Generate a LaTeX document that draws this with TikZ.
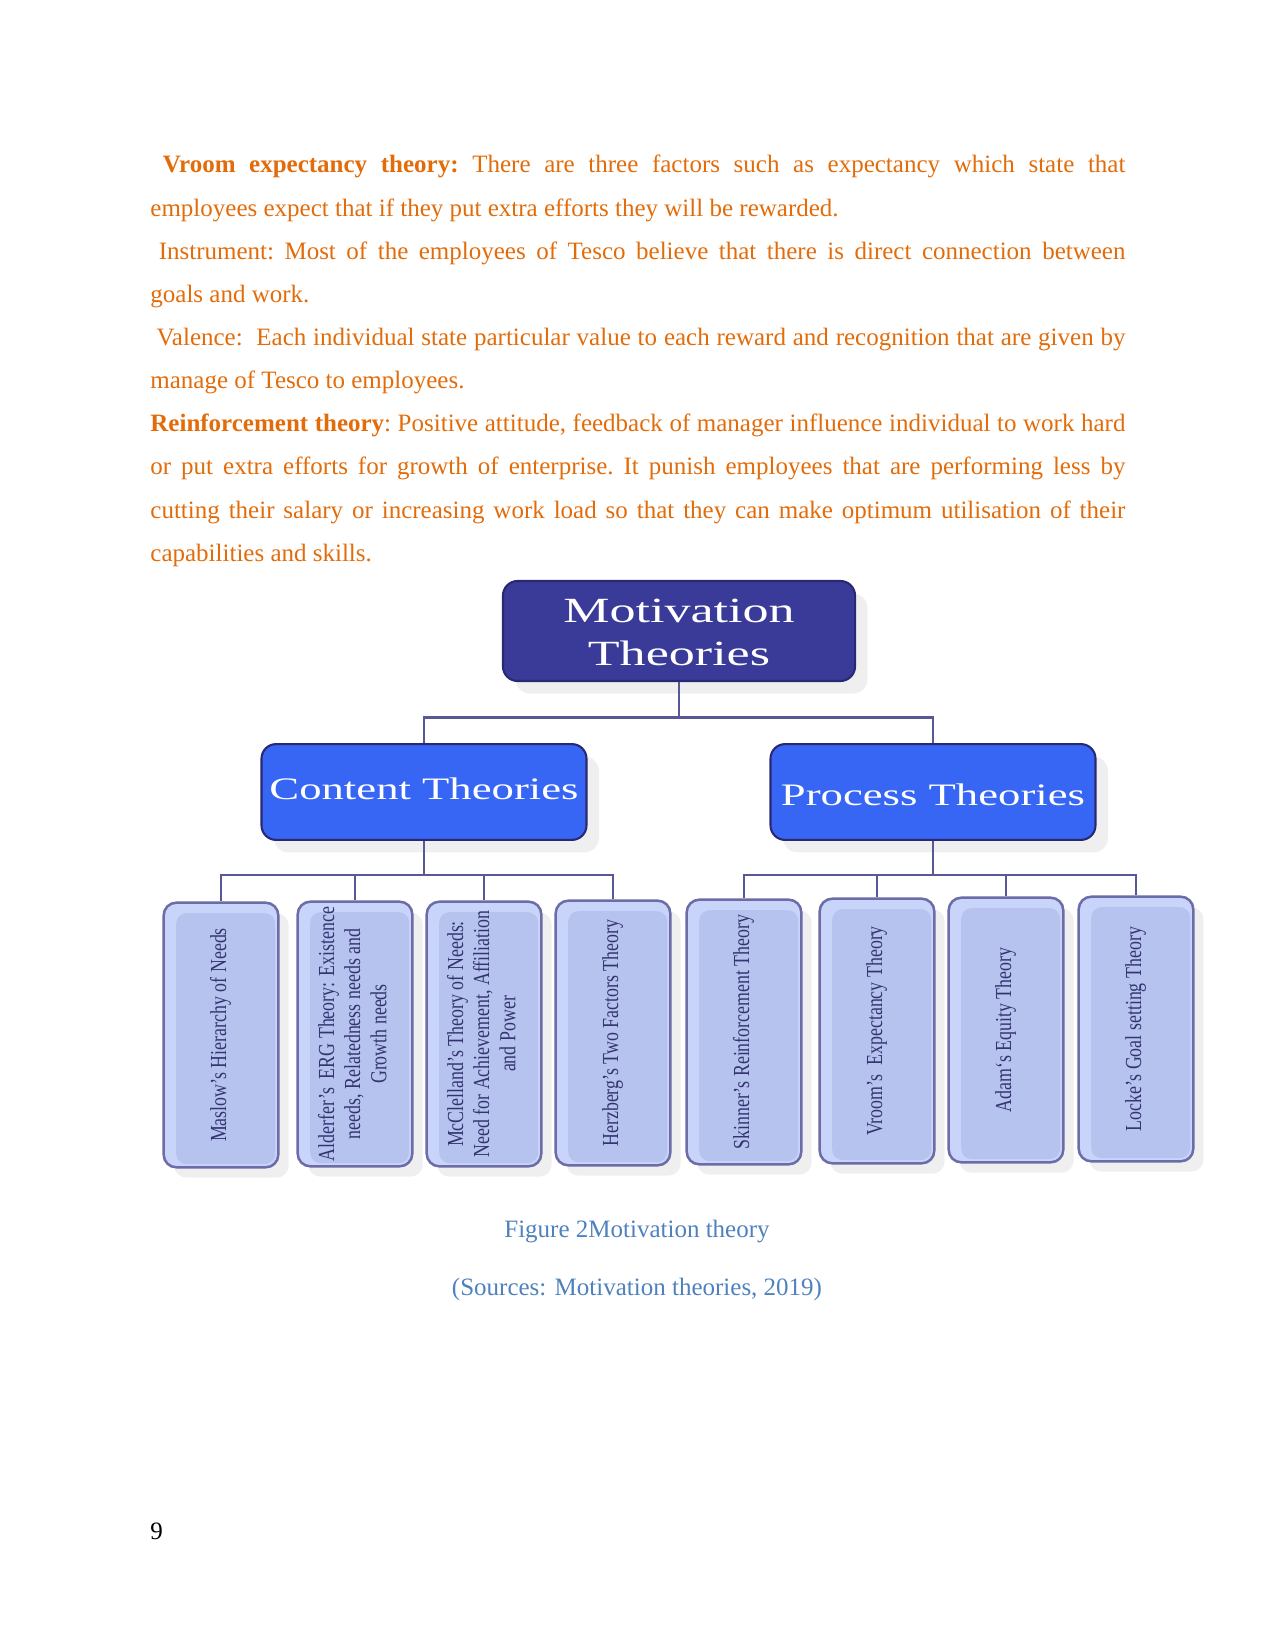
\documentclass[tikz,border=0pt]{standalone}
\usepackage{fontspec}
\setmainfont{Liberation Serif}
\usetikzlibrary{positioning, shadows, calc}

\definecolor{bodyorange}{RGB}{227,108,10}
\definecolor{rootblue}{RGB}{58,58,152}
\definecolor{midblue}{RGB}{55,102,245}
\definecolor{leafblue}{RGB}{181,195,238}
\definecolor{leaflight}{RGB}{200,212,250}
\definecolor{leafedge}{RGB}{108,108,168}
\definecolor{edgeblue}{RGB}{40,40,115}
\definecolor{linkblue}{RGB}{88,88,150}
\definecolor{leafink}{RGB}{52,52,112}
\definecolor{capblue}{RGB}{79,129,189}

% rotated, condensed text for the bottom boxes
\newcommand{\leaftext}[1]{\rotatebox{90}{\scalebox{0.78}[1]{\begin{tabular}{@{}c@{}}#1\end{tabular}}}}
% wide text for the upper boxes, lowered a little
\newcommand{\widetext}[3]{\raisebox{-#1}[\height][\depth]{\scalebox{#2}[1]{\begin{tabular}{@{}c@{}}#3\end{tabular}}}}

\tikzset{
  rootbox/.style={draw=edgeblue, line width=1pt, fill=rootblue, rounded corners=7pt,
    minimum width=169pt, minimum height=48pt, inner sep=0pt, text=white,
    font=\fontsize{17}{20.5}\selectfont,
    drop shadow={shadow xshift=6pt, shadow yshift=-6pt, fill=black!12}},
  groupbox/.style={draw=edgeblue, line width=1pt, fill=midblue, rounded corners=7pt,
    minimum width=156pt, minimum height=46pt, inner sep=0pt, text=white,
    font=\fontsize{15}{17}\selectfont,
    drop shadow={shadow xshift=6pt, shadow yshift=-6pt, fill=black!12}},
  leafbox/.style={draw=leafedge, line width=1.2pt, fill=leaflight, rounded corners=6pt,
    minimum width=55pt, minimum height=127pt, inner sep=0pt, text=leafink,
    font=\fontsize{11}{12.5}\selectfont,
    drop shadow={shadow xshift=5pt, shadow yshift=-5pt, fill=black!12},
    path picture={\fill[leafblue, rounded corners=5pt]
      ($(path picture bounding box.south west)+(6pt,1.5pt)$) rectangle
      ($(path picture bounding box.north east)+(-1.5pt,-5pt)$);}},
  link/.style={draw=linkblue, line width=1.4pt}
}

\begin{document}
\begin{tikzpicture}[x=0.48pt, y=-0.48pt]
  \useasboundingbox (0,0) rectangle (1275,1651);

  % Text above the chart
  \node[anchor=base west, inner sep=0pt, text=bodyorange] (body) at (150,173) {%
    \begin{minipage}[t]{468pt}
      \fontsize{12}{20.7}\selectfont\frenchspacing\parindent=0pt\parskip=0pt\hyphenpenalty=10000
      \hspace*{6pt}\textbf{Vroom expectancy theory:} There are three factors such as expectancy which state that\linebreak
      employees expect that if they put extra efforts they will be rewarded.\par
      \hspace*{4pt}Instrument: Most of the employees of Tesco believe that there is direct connection between\linebreak
      goals and work.\par
      \hspace*{3pt}Valence:\ \ Each individual state particular value to each reward and recognition that are given by\linebreak
      manage of Tesco to employees.\par
      \textbf{Reinforcement theory}: Positive attitude, feedback of manager influence individual to work hard\linebreak
      or put extra efforts for growth of enterprise. It punish employees that are performing less by\linebreak
      cutting their salary or increasing work load so that they can make optimum utilisation of their\linebreak
      capabilities and skills.
    \end{minipage}};

  % Chart
  \node[rootbox] (root) at (679,631) {\widetext{2.3pt}{1.47}{Motivation\\Theories}};
  \node[groupbox] (content) at (424,792) {\widetext{0pt}{1.43}{Content Theories}};
  \node[groupbox] (process) at (933,792) {\widetext{3pt}{1.43}{Process Theories}};

  \node[leafbox] (maslow) at (221,1035) {\leaftext{Maslow's Hierarchy of Needs}};
  \node[leafbox] (alderfer) at (355,1034) {\leaftext{Alderfer's\ \ ERG Theory: Existence\\needs, Relatedness needs and\\Growth needs}};
  \node[leafbox] (mcclelland) at (484,1034) {\leaftext{McClelland's Theory of Needs:\\Need for Achievement, Affiliation\\and Power}};
  \node[leafbox] (herzberg) at (613,1033) {\leaftext{Herzberg's Two Factors Theory}};
  \node[leafbox] (skinner) at (744,1032) {\leaftext{Skinner's Reinforcement Theory}};
  \node[leafbox] (vroom) at (877,1031) {\leaftext{Vroom's\ \ Expectancy Theory}};
  \node[leafbox] (adam) at (1006,1030) {\leaftext{Adam`s Equity Theory}};
  \node[leafbox] (locke) at (1136,1029) {\leaftext{Locke's Goal setting Theory}};

  % Connectors
  \draw[link] (root.south) -- ++(0,35) -| (content.north);
  \draw[link] (root.south) -- ++(0,35) -| (process.north);
  \draw[link] (content.south) -- ++(0,34) -| (maslow.north);
  \draw[link] (content.south) -- ++(0,34) -| (alderfer.north);
  \draw[link] (content.south) -- ++(0,34) -| (mcclelland.north);
  \draw[link] (content.south) -- ++(0,34) -| (herzberg.north);
  \draw[link] (process.south) -- ++(0,34) -| (skinner.north);
  \draw[link] (process.south) -- ++(0,34) -| (vroom.north);
  \draw[link] (process.south) -- ++(0,34) -| (adam.north);
  \draw[link] (process.south) -- ++(0,34) -| (locke.north);

  % Caption and page number
  \node[anchor=base, inner sep=0pt, text=capblue, font=\fontsize{12}{14}\selectfont] (caption) at (637,1237) {Figure 2Motivation theory};
  \node[anchor=base, inner sep=0pt, text=capblue, font=\fontsize{12}{14}\selectfont] (source) at (637,1295) {(Sources: Motivation theories, 2019)};
  \node[anchor=base west, inner sep=0pt, font=\fontsize{12}{14}\selectfont] (pagenum) at (150,1539) {9};
\end{tikzpicture}
\end{document}
